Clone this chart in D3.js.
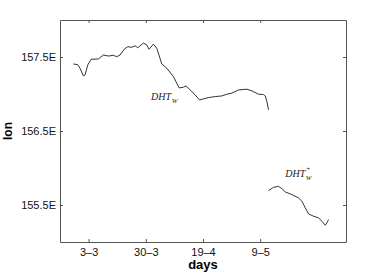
<!DOCTYPE html>
<html>
<head>
<meta charset="utf-8">
<script src="https://cdn.jsdelivr.net/npm/d3@7"></script>
<style>
  body { margin: 0; background: #fff; }
  svg { display: block; }
</style>
</head>
<body>
<div id="chart"></div>
<script>
// x is in tick-index units (tick 1 = 3-3, 2 = 30-3, ...), y is longitude (deg E)
const tickPos = [1, 2, 3, 4];
const tickLabels = ['3\u20133', '30\u20133', '19\u20134', '9\u20135'];
const yTicks = [155.5, 156.5, 157.5];

const dhtX = [0.733, 0.81, 0.85, 0.908, 0.938, 0.985, 1.043, 1.17, 1.258, 1.345, 1.433, 1.492, 1.55,
  1.625, 1.685, 1.755, 1.813, 1.86, 1.958, 2.017, 2.058, 2.133, 2.192, 2.28, 2.367, 2.483, 2.583,
  2.658, 2.705, 2.775, 2.863, 2.938, 3.008, 3.095, 3.213, 3.33, 3.417, 3.505, 3.62, 3.767, 3.855,
  3.97, 4.058, 4.088, 4.117, 4.145];
const dhtY = [157.406, 157.396, 157.348, 157.244, 157.257, 157.392, 157.469, 157.473, 157.527,
  157.513, 157.523, 157.504, 157.527, 157.608, 157.639, 157.631, 157.652, 157.625, 157.689,
  157.662, 157.604, 157.675, 157.617, 157.406, 157.348, 157.235, 157.082, 157.092, 157.109,
  157.055, 156.988, 156.92, 156.934, 156.951, 156.965, 156.974, 156.997, 157.011, 157.055,
  157.065, 157.042, 156.997, 156.992, 156.974, 156.898, 156.786];

const plusX = [4.145, 4.233, 4.32, 4.38, 4.438, 4.555, 4.67, 4.73, 4.788, 4.845, 4.933, 5.02,
  5.08, 5.138, 5.167, 5.195];
const plusY = [155.694, 155.739, 155.752, 155.721, 155.677, 155.64, 155.596, 155.55, 155.461,
  155.38, 155.348, 155.326, 155.28, 155.226, 155.259, 155.303];

const width = 382, height = 273;
const margin = { top: 20, right: 36, bottom: 31, left: 60 };
const w = width - margin.left - margin.right;
const h = height - margin.top - margin.bottom;

const sans = '"Liberation Sans", Arial, sans-serif';
const serif = '"Liberation Serif", "DejaVu Serif", serif';

const x = d3.scaleLinear().domain([0.5, 5.5]).range([0, w]);
const y = d3.scaleLinear().domain([155, 158]).range([h, 0]);

const svg = d3.select('#chart').append('svg')
  .attr('width', width)
  .attr('height', height)
  .style('font-family', sans);

const g = svg.append('g')
  .attr('transform', `translate(${margin.left},${margin.top})`);

const axisColor = '#555';

// inward ticks on all four sides, like matlab
const xAxisB = g.append('g')
  .attr('transform', `translate(0,${h})`)
  .call(d3.axisBottom(x).tickValues(tickPos).tickFormat((d, i) => tickLabels[i])
    .tickSizeInner(-3).tickSizeOuter(0).tickPadding(6.5));
const xAxisT = g.append('g')
  .call(d3.axisTop(x).tickValues(tickPos).tickFormat('').tickSizeInner(-3).tickSizeOuter(0));
const yAxisL = g.append('g')
  .call(d3.axisLeft(y).tickValues(yTicks).tickFormat(d => d3.format('.1f')(d) + 'E')
    .tickSizeInner(-3).tickSizeOuter(0).tickPadding(4));
const yAxisR = g.append('g')
  .attr('transform', `translate(${w},0)`)
  .call(d3.axisRight(y).tickValues(yTicks).tickFormat('').tickSizeInner(-3).tickSizeOuter(0));

[xAxisB, xAxisT, yAxisL, yAxisR].forEach(a => {
  a.selectAll('path, line').attr('stroke', axisColor);
  a.selectAll('text').attr('font-size', 11).attr('font-family', sans).attr('fill', '#111');
});

const line = d3.line().x(d => x(d[0])).y(d => y(d[1]));

g.append('path')
  .datum(d3.zip(dhtX, dhtY))
  .attr('fill', 'none')
  .attr('stroke', '#333')
  .attr('stroke-width', 1)
  .attr('d', line);

g.append('path')
  .datum(d3.zip(plusX, plusY))
  .attr('fill', 'none')
  .attr('stroke', '#333')
  .attr('stroke-width', 1)
  .attr('d', line);

// series labels (latex-ish math italic)
function mathLabel(px, py, sup) {
  const t = g.append('text')
    .attr('x', px)
    .attr('y', py)
    .style('font-family', serif)
    .style('font-style', 'italic')
    .attr('font-size', 10)
    .attr('fill', '#222')
    .text('DHT');
  const tw = t.node().getComputedTextLength();
  if (sup) {
    g.append('text')
      .attr('x', px + tw + 1)
      .attr('y', py - 5.5)
      .style('font-family', serif)
      .attr('font-size', 7)
      .attr('fill', '#222')
      .text('+');
  }
  g.append('text')
    .attr('x', px + tw + 0.5)
    .attr('y', py + (sup ? 3.5 : 3))
    .style('font-family', serif)
    .style('font-style', 'italic')
    .attr('font-size', 7)
    .attr('fill', '#222')
    .text('W');
}
mathLabel(x(2.093), y(156.919), false);
mathLabel(x(4.438), y(155.882), true);

// axis titles
svg.append('text')
  .attr('x', margin.left + w / 2)
  .attr('y', 269)
  .attr('text-anchor', 'middle')
  .attr('font-size', 13)
  .attr('font-weight', 'bold')
  .text('days');

svg.append('text')
  .attr('transform', `translate(12,${margin.top + h / 2}) rotate(-90)`)
  .attr('text-anchor', 'middle')
  .attr('font-size', 12)
  .attr('font-weight', 'bold')
  .text('lon');
</script>
</body>
</html>
